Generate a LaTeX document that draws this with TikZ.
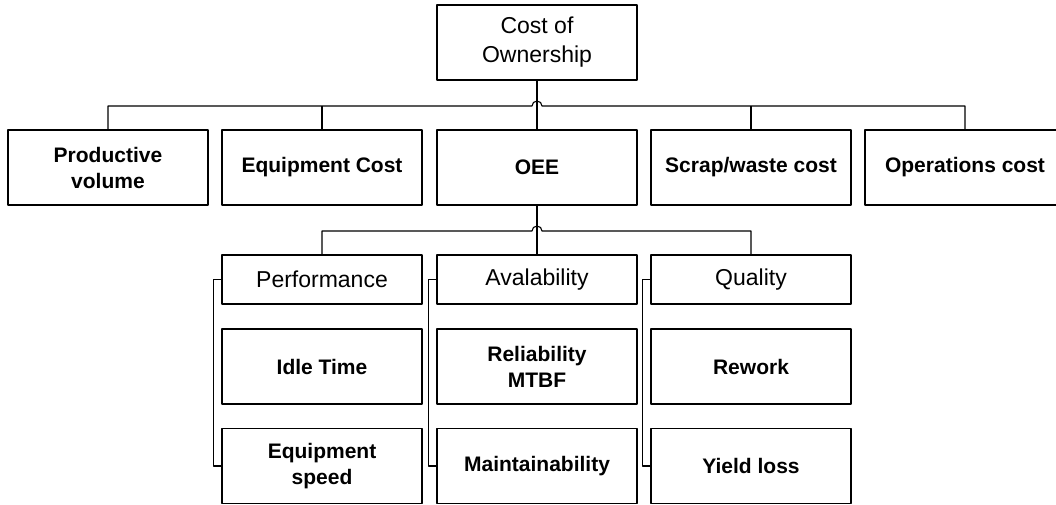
\documentclass[tikz,border=0pt]{standalone}
\usepackage{fontspec}
\setmainfont{Liberation Sans}
\tikzset{
  box/.style={draw, line width=1.1pt, minimum width=200pt, minimum height=75pt, align=center, inner sep=2pt, font=\fontsize{21}{26}\selectfont\bfseries},
  headbox/.style={box, font=\fontsize{23}{29}\selectfont\mdseries},
  link/.style={line width=1.1pt},
}
\begin{document}
\begin{tikzpicture}[x=1pt, y=-1pt, line join=round]
				\useasboundingbox (0,0) rectangle (1056,504);
				\clip (0,0) rectangle (1056,504);
				% top level
				\node[headbox] (cost) at (537,42.5) {Cost of\\Ownership};
				\node[box] (vol) at (108,167.5) {Productive\\volume};
				\node[box] (equip) at (322,167.5) {Equipment Cost};
				\node[box] (oee) at (537,167.5) {OEE};
				\node[box] (scrap) at (751,167.5) {Scrap/waste cost};
				\node[box] (ops) at (965,167.5) {Operations cost};
				% OEE parts
				\node[headbox, minimum height=49pt] (perf) at (322,279.5) {Performance};
				\node[headbox, minimum height=49pt] (avail) at (537,279.5) {Avalability};
				\node[headbox, minimum height=49pt] (qual) at (751,279.5) {Quality};
				\node[box] (idle) at (322,366.5) {Idle Time};
				\node[box] (speed) at (322,466) {Equipment\\speed};
				\node[box] (rel) at (537,366.5) {Reliability\\MTBF};
				\node[box] (maint) at (537,466) {Maintainability};
				\node[box] (rew) at (751,366.5) {Rework};
				\node[box] (yield) at (751,466) {Yield loss};
				% connectors
				\coordinate (b1) at (537,106);
				\coordinate (b2) at (537,231);
				\draw[link] (cost.south)--(oee.north);
				\draw[link] (avail.north)--(oee.south);
				\draw[link] (vol.north) |- ([xshift=-5pt]b1) arc[start angle=180, end angle=0, radius=5pt] -| (ops.north);
				\draw[link] (equip.north)--(equip.north |- b1) (scrap.north)--(scrap.north |- b1);
				\draw[link] (perf.north) |- ([xshift=-5pt]b2) arc[start angle=180, end angle=0, radius=5pt] -| (qual.north);
				\draw[link] (perf.west) -- ++(-8,0) |- (speed.west);
				\draw[link] (avail.west) -- ++(-8,0) |- (maint.west);
				\draw[link] (qual.west) -- ++(-8,0) |- (yield.west);
		\end{tikzpicture}
\end{document}
